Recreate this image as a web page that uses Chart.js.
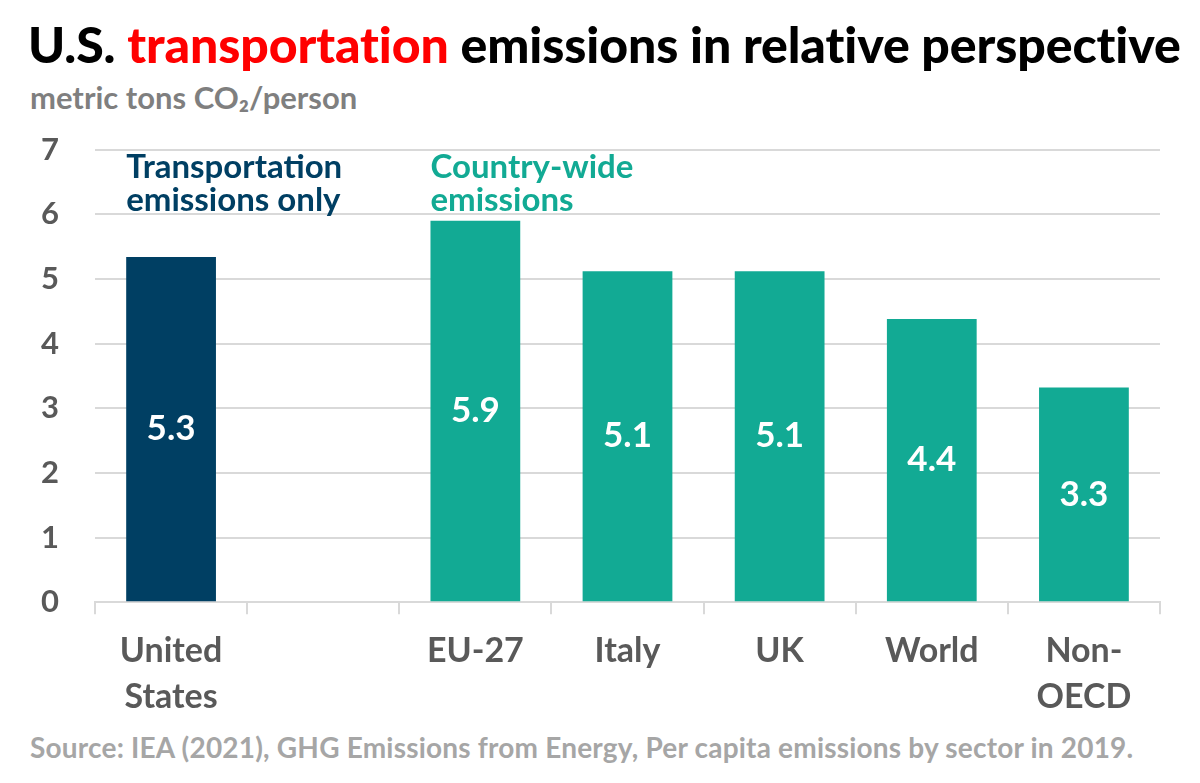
<!DOCTYPE html>
<html>
<head>
<meta charset="utf-8">
<script src="https://cdn.jsdelivr.net/npm/chart.js@4"></script>
<style>
  body { margin: 0; background: #fff; font-family: Lato, "Noto Sans", sans-serif; }
  #title { position: absolute; left: 28px; top: 14px; font-size: 50px; font-weight: 900; color: #000; white-space: nowrap; letter-spacing: -0.1px; }
  #title span { color: #ff0000; }
  #sub { position: absolute; left: 30px; top: 78px; font-size: 31px; font-weight: 700; color: #7f7f7f; }
  #source { position: absolute; left: 30px; top: 730px; font-size: 28px; font-weight: 700; color: #a6a6a6; white-space: nowrap; letter-spacing: 0.2px; }
  #wrap { position: absolute; left: 0; top: 95px; width: 1200px; height: 639px; }
</style>
</head>
<body>
<div id="title">U.S. <span>transportation</span> emissions in relative perspective</div>
<div id="sub">metric tons CO₂/person</div>
<div id="source">Source: IEA (2021), GHG Emissions from Energy, Per capita emissions by sector in 2019.</div>
<div id="wrap"><canvas id="chart"></canvas></div>
<script>
  let categories = ["United States", "", "EU-27", "Italy", "UK", "World", "Non-OECD"];
  let tickLabels = [["United", "States"], "", "EU-27", "Italy", "UK", "World", ["Non-", "OECD"]];
  let values = [5.34, null, 5.9, 5.12, 5.12, 4.38, 3.32];
  let valueLabels = ["5.3", "", "5.9", "5.1", "5.1", "4.4", "3.3"];
  let yTicks = [0, 1, 2, 3, 4, 5, 6, 7];

  let navy = "#003f63";
  let teal = "#12aa94";
  let gray = "#595959";

  let barColors = categories.map((c, i) => (i === 0 ? navy : teal));

  // white value labels in the middle of each bar + the two group notes
  let extras = {
    id: "extras",
    afterDatasetsDraw(chart) {
      let ctx = chart.ctx;
      let meta = chart.getDatasetMeta(0);
      let y = chart.scales.y;
      ctx.save();
      ctx.font = "bold 35px Lato, 'Noto Sans', sans-serif";
      ctx.fillStyle = "#fff";
      ctx.textAlign = "center";
      ctx.textBaseline = "middle";
      meta.data.forEach((bar, i) => {
        if (values[i] == null) return;
        ctx.fillText(valueLabels[i], bar.x, (bar.y + bar.base) / 2);
      });

      ctx.textAlign = "left";
      ctx.font = "bold 33px Lato, 'Noto Sans', sans-serif";
      let usBar = meta.data[0];
      let euBar = meta.data[2];
      ctx.fillStyle = navy;
      ctx.fillText("Transportation", usBar.x - usBar.width / 2, y.getPixelForValue(6.72));
      ctx.fillText("emissions only", usBar.x - usBar.width / 2, y.getPixelForValue(6.22));
      ctx.fillStyle = teal;
      ctx.fillText("Country-wide", euBar.x - euBar.width / 2, y.getPixelForValue(6.72));
      ctx.fillText("emissions", euBar.x - euBar.width / 2, y.getPixelForValue(6.22));
      ctx.restore();
    }
  };

  new Chart(document.getElementById("chart"), {
    type: "bar",
    data: {
      labels: categories,
      datasets: [
        {
          data: values,
          backgroundColor: barColors,
          barPercentage: 0.59,
          categoryPercentage: 1,
        },
      ],
    },
    options: {
      responsive: true,
      maintainAspectRatio: false,
      animation: false,
      layout: { padding: { left: 0, right: 40, top: 12, bottom: 0 } },
      plugins: {
        legend: { display: false },
        tooltip: { enabled: false },
      },
      scales: {
        x: {
          grid: { display: true, drawOnChartArea: false, drawTicks: true, tickLength: 12, color: "#d9d9d9", lineWidth: 2, offset: true },
          border: { display: true, color: "#d9d9d9", width: 2 },
          ticks: {
            color: gray,
            font: { family: "Lato, 'Noto Sans', sans-serif", size: 34, weight: "bold", lineHeight: 1.35 },
            padding: 14,
            maxRotation: 0,
            autoSkip: false,
            callback: (v, i) => tickLabels[i],
          },
        },
        y: {
          min: 0,
          max: 7,
          afterFit(scale) { scale.width = 95; },
          afterBuildTicks(scale) { scale.ticks = yTicks.map(v => ({ value: v })); },
          grid: { color: "#d9d9d9", lineWidth: 2, drawTicks: false },
          border: { display: false },
          ticks: {
            color: gray,
            font: { family: "Lato, 'Noto Sans', sans-serif", size: 31, weight: "bold" },
            padding: 36,
          },
        },
      },
    },
    plugins: [extras],
  });
</script>
</body>
</html>
